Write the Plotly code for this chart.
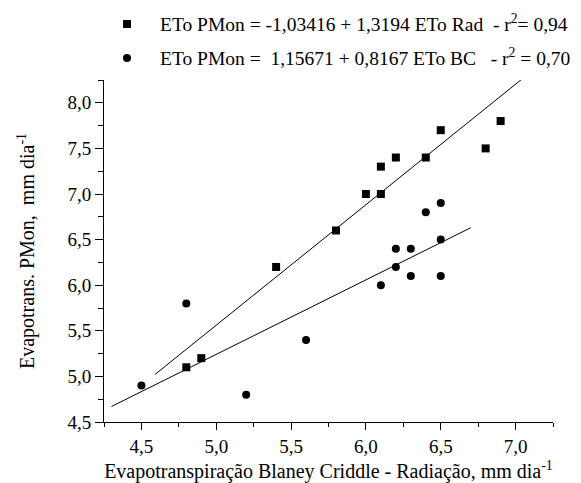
import plotly.graph_objects as go

# Data
rad_x = [4.8, 4.9, 5.4, 5.8, 6.0, 6.1, 6.1, 6.2, 6.4, 6.5, 6.8, 6.9]
rad_y = [5.1, 5.2, 6.2, 6.6, 7.0, 7.0, 7.3, 7.4, 7.4, 7.7, 7.5, 7.8]

bc_x = [4.5, 4.8, 5.2, 5.6, 6.1, 6.2, 6.2, 6.3, 6.3, 6.4, 6.5, 6.5, 6.5]
bc_y = [4.9, 5.8, 4.8, 5.4, 6.0, 6.2, 6.4, 6.4, 6.1, 6.8, 6.9, 6.5, 6.1]

# Fitted line endpoints (from legend equations)
rad_fit_x = [4.59, 7.05]
rad_fit_y = [5.02, 8.27]
bc_fit_x = [4.3, 6.7]
bc_fit_y = [4.67, 6.63]

x_ticks = [4.5, 5.0, 5.5, 6.0, 6.5, 7.0]
x_tick_labels = ["4,5", "5,0", "5,5", "6,0", "6,5", "7,0"]
y_ticks = [4.5, 5.0, 5.5, 6.0, 6.5, 7.0, 7.5, 8.0]
y_tick_labels = ["4,5", "5,0", "5,5", "6,0", "6,5", "7,0", "7,5", "8,0"]

NB = "\u00a0"
rad_label = "ETo PMon = -1,03416 + 1,3194 ETo Rad" + NB + " - r<sup>2</sup>= 0,94"
bc_label = "ETo PMon =" + NB + " 1,15671 + 0,8167 ETo BC" + NB + NB + " - r<sup>2</sup> = 0,70"

FONT = "Times New Roman"

fig = go.Figure()
fig.add_trace(go.Scatter(x=rad_x, y=rad_y, mode="markers", name=rad_label,
                         showlegend=False,
                         marker=dict(symbol="square", size=8, color="black")))
fig.add_trace(go.Scatter(x=bc_x, y=bc_y, mode="markers", name=bc_label,
                         showlegend=False,
                         marker=dict(symbol="circle", size=8, color="black")))
fig.add_trace(go.Scatter(x=rad_fit_x, y=rad_fit_y, mode="lines", showlegend=False,
                         line=dict(color="black", width=1)))
fig.add_trace(go.Scatter(x=bc_fit_x, y=bc_fit_y, mode="lines", showlegend=False,
                         line=dict(color="black", width=1)))

# Manual legend (symbols as pixel-sized shapes, labels as annotations)
leg_x = 0.0512
leg_rows = [1.1637, 1.0643]
fig.add_shape(type="rect", xref="paper", yref="paper", xsizemode="pixel", ysizemode="pixel",
              xanchor=leg_x, yanchor=leg_rows[0], x0=-4, x1=4, y0=-4, y1=4,
              fillcolor="black", line=dict(width=0))
fig.add_shape(type="circle", xref="paper", yref="paper", xsizemode="pixel", ysizemode="pixel",
              xanchor=leg_x, yanchor=leg_rows[1], x0=-4, x1=4, y0=-4, y1=4,
              fillcolor="black", line=dict(width=0))
for lab, yy in zip([rad_label, bc_label], [1.1667, 1.0658]):
    fig.add_annotation(text=lab, xref="paper", yref="paper", x=0.1203, y=yy,
                       xanchor="left", yanchor="middle", showarrow=False,
                       font=dict(family=FONT, size=19.5, color="black"))

fig.update_layout(
    template="none",
    width=573, height=475,
    margin=dict(l=96, r=28, t=72, b=61, pad=0),
    paper_bgcolor="white", plot_bgcolor="white",
    font=dict(family=FONT, size=19, color="black"),
    showlegend=False,
    xaxis=dict(range=[4.25, 7.25], tickvals=x_ticks, ticktext=x_tick_labels,
               automargin=False,
               showgrid=False, zeroline=False, showline=True, linecolor="black",
               linewidth=1, ticks="outside", ticklen=7, tickcolor="black",
               tickfont=dict(family=FONT, size=19),
               minor=dict(dtick=0.25, ticks="outside", ticklen=4, tickcolor="black"),
               title=dict(text="Evapotranspiração Blaney Criddle - Radiação, mm dia<sup>-1</sup>",
                          font=dict(family=FONT, size=20), standoff=10)),
    yaxis=dict(range=[4.5, 8.25], tickvals=y_ticks, ticktext=y_tick_labels,
               automargin=False,
               showgrid=False, zeroline=False, showline=True, linecolor="black",
               linewidth=1, ticks="outside", ticklen=8, tickcolor="black",
               tickfont=dict(family=FONT, size=19),
               minor=dict(dtick=0.25, ticks="outside", ticklen=5, tickcolor="black"),
               title=dict(text="Evapotrans. PMon," + NB + " mm dia<sup>-1</sup>",
                          font=dict(family=FONT, size=20), standoff=27)),
)

fig.write_html("out.html")
